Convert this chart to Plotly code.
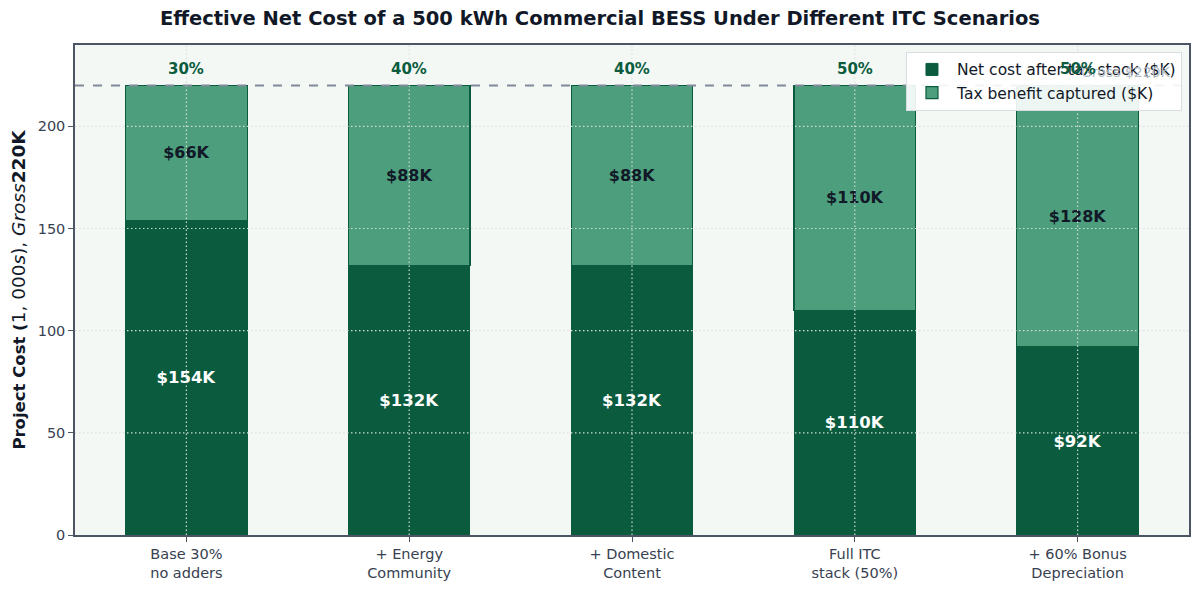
import plotly.graph_objects as go

# ---- data --------------------------------------------------------------------
scenarios = [
    "Base 30%<br>no adders",
    "+ Energy<br>Community",
    "+ Domestic<br>Content",
    "Full ITC<br>stack (50%)",
    "+ 60% Bonus<br>Depreciation",
]
net_cost_k = [154, 132, 132, 110, 92]
tax_benefit_k = [66, 88, 88, 110, 128]
itc_labels = ["30%", "40%", "40%", "50%", "50%"]
gross_cost_k = 220
y_ticks = [0, 50, 100, 150, 200]

DARK = "#0b5c3f"
LIGHT = "#4c9e7c"
INK = "#111827"
GRID = "rgba(214,224,219,0.95)"
FONT = "DejaVu Sans"

fig = go.Figure()
fig.add_trace(
    go.Bar(
        x=scenarios,
        y=net_cost_k,
        name="Net cost after tax stack ($K)",
        marker=dict(color=DARK, line=dict(color=DARK, width=1)),
        width=0.545,
        text=[f"<b>${v}K</b>" for v in net_cost_k],
        textposition="inside",
        insidetextanchor="middle",
        textangle=0,
        constraintext="none",
        textfont=dict(color="white", size=16.5, family=FONT),
    )
)
fig.add_trace(
    go.Bar(
        x=scenarios,
        y=tax_benefit_k,
        name="Tax benefit captured ($K)",
        marker=dict(color=LIGHT, line=dict(color=DARK, width=1.2)),
        width=0.545,
        text=[f"<b>${v}K</b>" for v in tax_benefit_k],
        textposition="inside",
        insidetextanchor="middle",
        textangle=0,
        constraintext="none",
        textfont=dict(color=INK, size=16, family=FONT),
    )
)

# dotted grid drawn on top of the bars (as in the reference)
grid_line = dict(color=GRID, width=1.2, dash="1.5px,2.5px")
for yv in y_ticks[1:]:
    fig.add_hline(y=yv, line=grid_line, layer="above")
for cat in scenarios:
    fig.add_vline(x=cat, line=grid_line, layer="above")

# gross cost reference line + label
fig.add_hline(y=gross_cost_k, line=dict(color="#7f8a9a", width=2, dash="dash"))
fig.add_annotation(
    x=4.43, y=gross_cost_k + 1.5, text="Gross $220K", showarrow=False,
    xanchor="right", yanchor="bottom",
    font=dict(color="#b3bac3", size=14, family=FONT),
)

# ITC percentage labels above each bar
for cat, pct in zip(scenarios, itc_labels):
    fig.add_annotation(
        x=cat, y=gross_cost_k + 8, text=f"<b>{pct}</b>", showarrow=False,
        font=dict(color=DARK, size=15, family=FONT),
    )

fig.update_layout(
    width=1192,
    height=586,
    barmode="stack",
    plot_bgcolor="#f4f8f5",
    paper_bgcolor="white",
    font=dict(family=FONT, color="#374151", size=14.5),
    title=dict(
        text="<b>Effective Net Cost of a 500 kWh Commercial BESS Under Different ITC Scenarios</b>",
        x=0.4966, xanchor="center", y=0.983, yanchor="middle",
        font=dict(size=19.5, color=INK, family=FONT),
    ),
    margin=dict(l=67, r=11, t=37, b=59),
    legend=dict(
        x=0.9937, y=0.986, xanchor="right", yanchor="top",
        bgcolor="rgba(255,255,255,0.9)", bordercolor="#d9dde2", borderwidth=1,
        font=dict(size=15.5, color=INK, family=FONT),
        traceorder="normal",
        itemwidth=40,
    ),
    showlegend=True,
)
fig.update_xaxes(
    range=[-0.5, 4.5],
    showgrid=False, automargin=False,
    showline=True, linecolor="#4b5563", linewidth=1.5, mirror=True,
    ticks="outside", ticklen=5, tickcolor="#4b5563",
    tickfont=dict(size=14.5, color="#374151"),
)
fig.update_yaxes(
    range=[0, 239.8], tickvals=y_ticks,
    showgrid=False, zeroline=False, automargin=False,
    showline=True, linecolor="#4b5563", linewidth=1.5, mirror=True,
    ticks="outside", ticklen=5, tickcolor="#4b5563",
    tickfont=dict(size=14.5, color="#374151"),
    title=dict(
        text=(
            "<b>Project Cost (</b>"
            "<span style='font-size:18.5px'>1, 000<i>s</i>), <i>Gross</i><b>220K</b></span>"
        ),
        font=dict(size=16.5, color=INK, family=FONT),
        standoff=13,
    ),
)

fig.write_html("out.html")
